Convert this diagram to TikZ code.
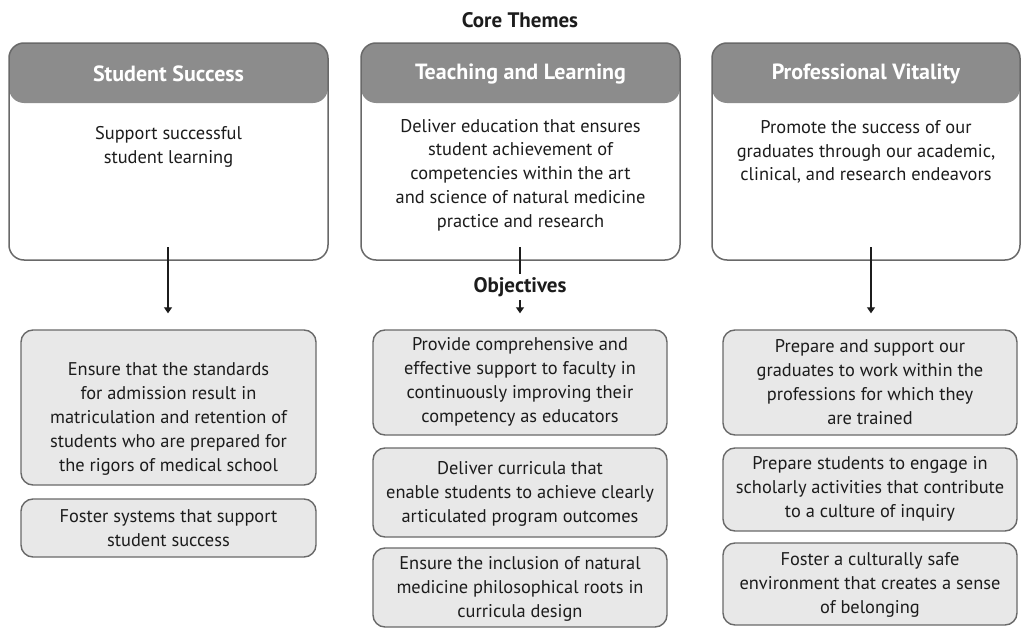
\documentclass[tikz,border=0pt]{standalone}
\usepackage{fontspec}
\setmainfont{PT Sans}
\usetikzlibrary{arrows.meta}
\definecolor{hdr}{RGB}{140,140,140}
\definecolor{bord}{RGB}{105,105,105}
\definecolor{objfill}{RGB}{232,232,232}
\definecolor{ink}{RGB}{28,28,28}
\begin{document}
\begin{tikzpicture}[x=1pt,y=-1pt,
  theme/.style={fill=white, rounded corners=15pt, inner sep=0pt, minimum width=319pt, minimum height=217pt,
    path picture={\fill[hdr] (path picture bounding box.north west) rectangle ([yshift=-60pt]path picture bounding box.north east);},
    postaction={draw=bord, line width=1.5pt}},
  hdrtext/.style={text=white, font=\fontsize{22}{24}\selectfont\bfseries},
  body/.style={text=ink, align=center, font=\fontsize{18.4}{23.8}\selectfont},
  obox/.style={draw=bord, line width=1.4pt, fill=objfill, rounded corners=12pt, inner sep=0pt, minimum width=295pt},
  title/.style={text=ink, font=\fontsize{21}{23}\selectfont\bfseries},
  conn/.style={draw=ink, line width=1.2pt, -{Triangle[width=8pt,length=6pt]}},
  plain/.style={draw=ink, line width=1.2pt}
]
\useasboundingbox[fill=white] (0,0) rectangle (1021,629);

\node[title] (core) at (520,20) {Core Themes};

% theme boxes
\node[theme] (b1) at (168.5,151.5) {};
\node[theme] (b2) at (520.5,151.5) {};
\node[theme, minimum width=308pt] (b3) at (866,151.5) {};
\node[hdrtext] (h1) at (168.5,74) {Student Success};
\node[hdrtext] (h2) at (520.5,74) {Teaching and Learning};
\node[hdrtext] (h3) at (866,74) {Professional Vitality};

\node[body] (t1) at (168.5,147) {Support successful\\student learning};
\node[body] (t2) at (520.5,175) {Deliver education that ensures\\student achievement of\\competencies within the art\\and science of natural medicine\\practice and research};
\node[body] (t3) at (866,152) {Promote the success of our\\graduates through our academic,\\clinical, and research endeavors};

\node[title] (obj) at (520,287) {Objectives};

% objective boxes
\node[obox, minimum height=155pt] (o11) at (168.5,407.5) {};
\node[obox, minimum height=58pt] (o12) at (168.5,528) {};
\node[obox, minimum height=105pt, minimum width=294pt] (o21) at (520,382.5) {};
\node[obox, minimum height=89pt, minimum width=294pt] (o22) at (520,492.5) {};
\node[obox, minimum height=79pt, minimum width=294pt] (o23) at (520,587.5) {};
\node[obox, minimum height=105pt, minimum width=294pt] (o31) at (870,382.5) {};
\node[obox, minimum height=83pt, minimum width=294pt] (o32) at (870,489.5) {};
\node[obox, minimum height=82pt, minimum width=294pt] (o33) at (870,584) {};

\node[body] (p11) at (168.5,419) {Ensure that the standards\\for admission result in\\matriculation and retention of\\students who are prepared for\\the rigors of medical school};
\node[body] (p12) at (168.5,528) {Foster systems that support\\student success};
\node[body] (p21) at (520,382) {Provide comprehensive and\\effective support to faculty in\\continuously improving their\\competency as educators};
\node[body] (p22) at (520,494) {Deliver curricula that\\enable students to achieve clearly\\articulated program outcomes};
\node[body] (p23) at (520,589) {Ensure the inclusion of natural\\medicine philosophical roots in\\curricula design};
\node[body] (p31) at (870,382) {Prepare and support our\\graduates to work within the\\professions for which they\\are trained};
\node[body] (p32) at (870,489) {Prepare students to engage in\\scholarly activities that contribute\\to a culture of inquiry};
\node[body] (p33) at (870,585) {Foster a culturally safe\\environment that creates a sense\\of belonging};

% connectors
\coordinate (s1) at (168,247);
\coordinate (s2) at (520,247);
\coordinate (s3) at (871,247);
\draw[conn, shorten >=16pt] (s1) -- (s1 |- o11.north);
\draw[conn, shorten >=16pt] (s3) -- (s3 |- o31.north);
\draw[plain] (s2) -- (s2 |- obj.north);
\draw[conn, shorten >=16pt] (obj.south) -- (obj.south |- o21.north);
\end{tikzpicture}
\end{document}
